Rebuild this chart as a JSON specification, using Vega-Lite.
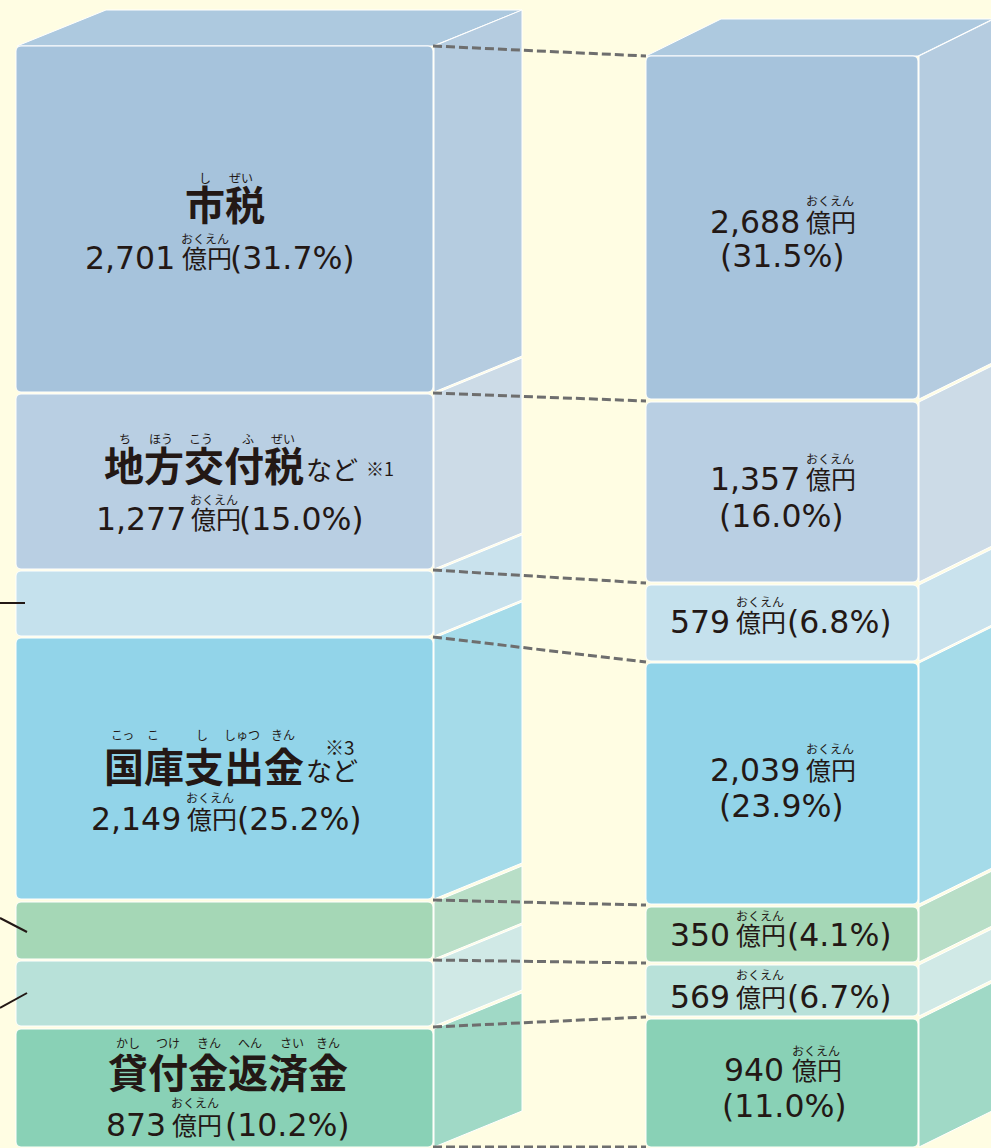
{
  "$schema": "https://vega.github.io/schema/vega-lite/v6.json",
  "width": 991,
  "height": 1148,
  "padding": 0,
  "autosize": {"type": "none"},
  "background": "#fffde3",
  "config": {"view": {"stroke": null}},
  "datasets": {
    "tops": [
      {"col": "L", "key": "上面", "y": 46, "x": 17, "x2": 433},
      {"col": "L", "key": "上面", "y": 10, "x": 106, "x2": 522},
      {"col": "R", "key": "上面", "y": 56, "x": 646, "x2": 918},
      {"col": "R", "key": "上面", "y": 19, "x": 721, "x2": 993}
    ],
    "sides": [
      {"id": "L1", "key": "市税:側面", "x": 434, "y": 46, "y2": 392},
      {"id": "L1", "key": "市税:側面", "x": 522, "y": 10, "y2": 356},
      {"id": "L2", "key": "地方交付税など:側面", "x": 434, "y": 394, "y2": 569},
      {"id": "L2", "key": "地方交付税など:側面", "x": 522, "y": 358, "y2": 533},
      {"id": "L3", "key": "区分3:側面", "x": 434, "y": 571, "y2": 636},
      {"id": "L3", "key": "区分3:側面", "x": 522, "y": 535, "y2": 600},
      {"id": "L4", "key": "国庫支出金など:側面", "x": 434, "y": 638, "y2": 899},
      {"id": "L4", "key": "国庫支出金など:側面", "x": 522, "y": 602, "y2": 863},
      {"id": "L5", "key": "区分5:側面", "x": 434, "y": 902, "y2": 959},
      {"id": "L5", "key": "区分5:側面", "x": 522, "y": 866, "y2": 923},
      {"id": "L6", "key": "区分6:側面", "x": 434, "y": 961, "y2": 1026},
      {"id": "L6", "key": "区分6:側面", "x": 522, "y": 925, "y2": 990},
      {"id": "L7", "key": "貸付金返済金:側面", "x": 434, "y": 1029, "y2": 1147},
      {"id": "L7", "key": "貸付金返済金:側面", "x": 522, "y": 993, "y2": 1111},
      {"id": "R1", "key": "市税:側面", "x": 919, "y": 56, "y2": 399},
      {"id": "R1", "key": "市税:側面", "x": 994, "y": 19, "y2": 362},
      {"id": "R2", "key": "地方交付税など:側面", "x": 919, "y": 402, "y2": 582},
      {"id": "R2", "key": "地方交付税など:側面", "x": 994, "y": 365, "y2": 545},
      {"id": "R3", "key": "区分3:側面", "x": 919, "y": 585, "y2": 661},
      {"id": "R3", "key": "区分3:側面", "x": 994, "y": 548, "y2": 624},
      {"id": "R4", "key": "国庫支出金など:側面", "x": 919, "y": 663, "y2": 904},
      {"id": "R4", "key": "国庫支出金など:側面", "x": 994, "y": 626, "y2": 867},
      {"id": "R5", "key": "区分5:側面", "x": 919, "y": 907, "y2": 962},
      {"id": "R5", "key": "区分5:側面", "x": 994, "y": 870, "y2": 925},
      {"id": "R6", "key": "区分6:側面", "x": 919, "y": 965, "y2": 1016},
      {"id": "R6", "key": "区分6:側面", "x": 994, "y": 928, "y2": 979},
      {"id": "R7", "key": "貸付金返済金:側面", "x": 919, "y": 1019, "y2": 1147},
      {"id": "R7", "key": "貸付金返済金:側面", "x": 994, "y": 982, "y2": 1110}
    ],
    "fronts": [
      {"col": "L", "key": "市税", "amount": 2701, "pct": 31.7, "x": 16, "x2": 433, "y": 46, "y2": 392},
      {"col": "L", "key": "地方交付税など", "amount": 1277, "pct": 15.0, "x": 16, "x2": 433, "y": 394, "y2": 569},
      {"col": "L", "key": "区分3", "x": 16, "x2": 433, "y": 571, "y2": 636},
      {"col": "L", "key": "国庫支出金など", "amount": 2149, "pct": 25.2, "x": 16, "x2": 433, "y": 638, "y2": 899},
      {"col": "L", "key": "区分5", "x": 16, "x2": 433, "y": 902, "y2": 959},
      {"col": "L", "key": "区分6", "x": 16, "x2": 433, "y": 961, "y2": 1026},
      {"col": "L", "key": "貸付金返済金", "amount": 873, "pct": 10.2, "x": 16, "x2": 433, "y": 1029, "y2": 1147},
      {"col": "R", "key": "市税", "amount": 2688, "pct": 31.5, "x": 646, "x2": 918, "y": 56, "y2": 399},
      {"col": "R", "key": "地方交付税など", "amount": 1357, "pct": 16.0, "x": 646, "x2": 918, "y": 402, "y2": 582},
      {"col": "R", "key": "区分3", "amount": 579, "pct": 6.8, "x": 646, "x2": 918, "y": 585, "y2": 661},
      {"col": "R", "key": "国庫支出金など", "amount": 2039, "pct": 23.9, "x": 646, "x2": 918, "y": 663, "y2": 904},
      {"col": "R", "key": "区分5", "amount": 350, "pct": 4.1, "x": 646, "x2": 918, "y": 907, "y2": 962},
      {"col": "R", "key": "区分6", "amount": 569, "pct": 6.7, "x": 646, "x2": 918, "y": 965, "y2": 1016},
      {"col": "R", "key": "貸付金返済金", "amount": 940, "pct": 11.0, "x": 646, "x2": 918, "y": 1019, "y2": 1147}
    ],
    "links": [
      {"x": 433, "y": 46, "x2": 646, "y2": 56},
      {"x": 433, "y": 393, "x2": 646, "y2": 401},
      {"x": 433, "y": 570, "x2": 646, "y2": 583},
      {"x": 433, "y": 637, "x2": 646, "y2": 662},
      {"x": 433, "y": 900, "x2": 646, "y2": 905},
      {"x": 433, "y": 960, "x2": 646, "y2": 963},
      {"x": 433, "y": 1027, "x2": 646, "y2": 1017},
      {"x": 433, "y": 1147, "x2": 646, "y2": 1147}
    ],
    "leaders": [
      {"x": 0, "y": 603, "x2": 25, "y2": 603},
      {"x": 0, "y": 918, "x2": 27, "y2": 932},
      {"x": 0, "y": 1008, "x2": 27, "y2": 993}
    ],
    "labels": [
      {"role": "title", "text": "市税", "x": 185, "y": 208},
      {"role": "title", "text": "地方交付税", "x": 104, "y": 469},
      {"role": "title", "text": "国庫支出金", "x": 104, "y": 770},
      {"role": "title", "text": "貸付金返済金", "x": 108, "y": 1076},
      {"role": "nado", "text": "など", "x": 306, "y": 472},
      {"role": "nado", "text": "など", "x": 306, "y": 773},
      {"role": "note", "text": "※1", "x": 366, "y": 471},
      {"role": "note3", "text": "※3", "x": 325, "y": 749},
      {"role": "ruby", "text": "し", "x": 199, "y": 179},
      {"role": "ruby", "text": "ぜい", "x": 229, "y": 179},
      {"role": "ruby", "text": "ち", "x": 119, "y": 440},
      {"role": "ruby", "text": "ほう", "x": 149, "y": 440},
      {"role": "ruby", "text": "こう", "x": 189, "y": 440},
      {"role": "ruby", "text": "ふ", "x": 242, "y": 440},
      {"role": "ruby", "text": "ぜい", "x": 271, "y": 440},
      {"role": "ruby", "text": "こっ", "x": 111, "y": 736},
      {"role": "ruby", "text": "こ", "x": 147, "y": 736},
      {"role": "ruby", "text": "し", "x": 196, "y": 736},
      {"role": "ruby", "text": "しゅつ", "x": 224, "y": 736},
      {"role": "ruby", "text": "きん", "x": 271, "y": 736},
      {"role": "ruby", "text": "かし", "x": 116, "y": 1044},
      {"role": "ruby", "text": "つけ", "x": 156, "y": 1044},
      {"role": "ruby", "text": "きん", "x": 197, "y": 1044},
      {"role": "ruby", "text": "へん", "x": 238, "y": 1044},
      {"role": "ruby", "text": "さい", "x": 280, "y": 1044},
      {"role": "ruby", "text": "きん", "x": 316, "y": 1044},
      {"role": "ruby", "text": "おくえん", "x": 181, "y": 240},
      {"role": "ruby", "text": "おくえん", "x": 190, "y": 501},
      {"role": "ruby", "text": "おくえん", "x": 186, "y": 799},
      {"role": "ruby", "text": "おくえん", "x": 171, "y": 1104},
      {"role": "ruby", "text": "おくえん", "x": 806, "y": 202},
      {"role": "ruby", "text": "おくえん", "x": 806, "y": 460},
      {"role": "ruby", "text": "おくえん", "x": 736, "y": 603},
      {"role": "ruby", "text": "おくえん", "x": 806, "y": 750},
      {"role": "ruby", "text": "おくえん", "x": 736, "y": 917},
      {"role": "ruby", "text": "おくえん", "x": 736, "y": 976},
      {"role": "ruby", "text": "おくえん", "x": 792, "y": 1052},
      {"role": "num", "text": "2,701", "x": 85, "y": 260},
      {"role": "unit", "text": "億円", "x": 182, "y": 260},
      {"role": "num", "text": "(31.7%)", "x": 230, "y": 260},
      {"role": "num", "text": "1,277", "x": 96, "y": 521},
      {"role": "unit", "text": "億円", "x": 191, "y": 521},
      {"role": "num", "text": "(15.0%)", "x": 239, "y": 521},
      {"role": "num", "text": "2,149", "x": 91, "y": 821},
      {"role": "unit", "text": "億円", "x": 187, "y": 821},
      {"role": "num", "text": "(25.2%)", "x": 237, "y": 821},
      {"role": "num", "text": "873", "x": 106, "y": 1127},
      {"role": "unit", "text": "億円", "x": 172, "y": 1127},
      {"role": "num", "text": "(10.2%)", "x": 225, "y": 1127},
      {"role": "num", "text": "2,688", "x": 710, "y": 224},
      {"role": "unit", "text": "億円", "x": 806, "y": 224},
      {"role": "num", "text": "(31.5%)", "x": 720, "y": 258},
      {"role": "num", "text": "1,357", "x": 710, "y": 481},
      {"role": "unit", "text": "億円", "x": 806, "y": 481},
      {"role": "num", "text": "(16.0%)", "x": 719, "y": 518},
      {"role": "num", "text": "579", "x": 670, "y": 624},
      {"role": "unit", "text": "億円", "x": 736, "y": 624},
      {"role": "num", "text": "(6.8%)", "x": 787, "y": 624},
      {"role": "num", "text": "2,039", "x": 710, "y": 772},
      {"role": "unit", "text": "億円", "x": 806, "y": 772},
      {"role": "num", "text": "(23.9%)", "x": 719, "y": 808},
      {"role": "num", "text": "350", "x": 670, "y": 937},
      {"role": "unit", "text": "億円", "x": 736, "y": 937},
      {"role": "num", "text": "(4.1%)", "x": 787, "y": 937},
      {"role": "num", "text": "569", "x": 670, "y": 999},
      {"role": "unit", "text": "億円", "x": 736, "y": 999},
      {"role": "num", "text": "(6.7%)", "x": 787, "y": 999},
      {"role": "num", "text": "940", "x": 724, "y": 1072},
      {"role": "unit", "text": "億円", "x": 792, "y": 1072},
      {"role": "num", "text": "(11.0%)", "x": 722, "y": 1108}
    ]
  },
  "layer": [
    {
      "data": {"name": "tops"},
      "mark": {"type": "area", "orient": "horizontal", "stroke": "#ffffff", "strokeWidth": 1},
      "encoding": {
        "y": {"field": "y", "type": "quantitative", "scale": {"domain": [0, 1148], "reverse": true, "nice": false, "zero": false}, "axis": null},
        "x": {"field": "x", "type": "quantitative", "scale": {"domain": [0, 991], "nice": false, "zero": false}, "axis": null},
        "x2": {"field": "x2"},
        "detail": {"field": "col"},
        "color": {"field": "key", "type": "nominal", "legend": null,
          "scale": {"domain": ["上面", "市税", "市税:側面", "地方交付税など", "地方交付税など:側面", "区分3", "区分3:側面", "国庫支出金など", "国庫支出金など:側面", "区分5", "区分5:側面", "区分6", "区分6:側面", "貸付金返済金", "貸付金返済金:側面"],
                    "range": ["#adc9df", "#a6c3dc", "#b5cce0", "#b9cfe3", "#ccdbe7", "#c5e1ed", "#c9e2ed", "#92d4e9", "#a5dbe9", "#a5d7b6", "#b8dec7", "#b8e1d9", "#d0e9e6", "#89d1b6", "#a0d9c6"]}}
      }
    },
    {
      "data": {"name": "sides"},
      "mark": {"type": "area", "stroke": "#ffffff", "strokeWidth": 1},
      "encoding": {
        "x": {"field": "x", "type": "quantitative"},
        "y": {"field": "y", "type": "quantitative"},
        "y2": {"field": "y2"},
        "detail": {"field": "id"},
        "color": {"field": "key", "type": "nominal", "legend": null}
      }
    },
    {
      "data": {"name": "fronts"},
      "mark": {"type": "rect", "cornerRadius": 5, "stroke": "#ffffff", "strokeWidth": 1},
      "encoding": {
        "x": {"field": "x", "type": "quantitative"},
        "x2": {"field": "x2"},
        "y": {"field": "y", "type": "quantitative"},
        "y2": {"field": "y2"},
        "color": {"field": "key", "type": "nominal", "legend": null}
      }
    },
    {
      "data": {"name": "links"},
      "mark": {"type": "rule", "color": "#6e6e6e", "strokeWidth": 3, "strokeDash": [9, 4]},
      "encoding": {
        "x": {"field": "x", "type": "quantitative"},
        "y": {"field": "y", "type": "quantitative"},
        "x2": {"field": "x2"},
        "y2": {"field": "y2"}
      }
    },
    {
      "data": {"name": "leaders"},
      "mark": {"type": "rule", "color": "#231815", "strokeWidth": 2},
      "encoding": {
        "x": {"field": "x", "type": "quantitative"},
        "y": {"field": "y", "type": "quantitative"},
        "x2": {"field": "x2"},
        "y2": {"field": "y2"}
      }
    },
    {
      "data": {"name": "labels"},
      "transform": [{"filter": "datum.role === 'title'"}],
      "mark": {"type": "text", "align": "left", "baseline": "middle", "font": "Noto Sans CJK JP", "fontSize": 40, "fontWeight": "bold", "color": "#231815"},
      "encoding": {
        "x": {"field": "x", "type": "quantitative"},
        "y": {"field": "y", "type": "quantitative"},
        "text": {"field": "text"}
      }
    },
    {
      "data": {"name": "labels"},
      "transform": [{"filter": "datum.role === 'nado'"}],
      "mark": {"type": "text", "align": "left", "baseline": "middle", "font": "Noto Sans CJK JP", "fontSize": 26, "color": "#231815"},
      "encoding": {
        "x": {"field": "x", "type": "quantitative"},
        "y": {"field": "y", "type": "quantitative"},
        "text": {"field": "text"}
      }
    },
    {
      "data": {"name": "labels"},
      "transform": [{"filter": "datum.role === 'note'"}],
      "mark": {"type": "text", "align": "left", "baseline": "middle", "font": "Noto Sans CJK JP", "fontSize": 18, "color": "#231815"},
      "encoding": {
        "x": {"field": "x", "type": "quantitative"},
        "y": {"field": "y", "type": "quantitative"},
        "text": {"field": "text"}
      }
    },
    {
      "data": {"name": "labels"},
      "transform": [{"filter": "datum.role === 'note3'"}],
      "mark": {"type": "text", "align": "left", "baseline": "middle", "font": "Noto Sans CJK JP", "fontSize": 19, "color": "#231815"},
      "encoding": {
        "x": {"field": "x", "type": "quantitative"},
        "y": {"field": "y", "type": "quantitative"},
        "text": {"field": "text"}
      }
    },
    {
      "data": {"name": "labels"},
      "transform": [{"filter": "datum.role === 'ruby'"}],
      "mark": {"type": "text", "align": "left", "baseline": "middle", "font": "Noto Sans CJK JP", "fontSize": 12, "color": "#231815"},
      "encoding": {
        "x": {"field": "x", "type": "quantitative"},
        "y": {"field": "y", "type": "quantitative"},
        "text": {"field": "text"}
      }
    },
    {
      "data": {"name": "labels"},
      "transform": [{"filter": "datum.role === 'num'"}],
      "mark": {"type": "text", "align": "left", "baseline": "middle", "font": "DejaVu Sans", "fontSize": 31.5, "color": "#231815"},
      "encoding": {
        "x": {"field": "x", "type": "quantitative"},
        "y": {"field": "y", "type": "quantitative"},
        "text": {"field": "text"}
      }
    },
    {
      "data": {"name": "labels"},
      "transform": [{"filter": "datum.role === 'unit'"}],
      "mark": {"type": "text", "align": "left", "baseline": "middle", "font": "Noto Sans CJK JP", "fontSize": 25, "color": "#231815"},
      "encoding": {
        "x": {"field": "x", "type": "quantitative"},
        "y": {"field": "y", "type": "quantitative"},
        "text": {"field": "text"}
      }
    }
  ]
}
